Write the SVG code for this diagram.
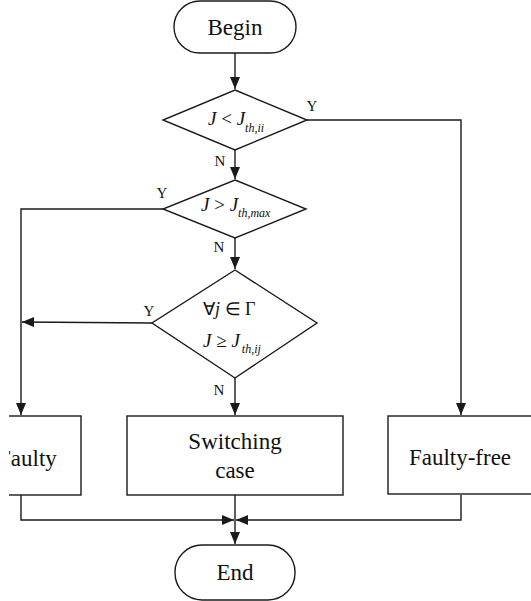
<svg xmlns="http://www.w3.org/2000/svg" width="531" height="601" viewBox="0 0 531 601">
<style>
.shape{fill:#fff;stroke:#1a1a1a;stroke-width:1.4}
.line{fill:none;stroke:#1a1a1a;stroke-width:1.4}
.t{font-family:"Liberation Serif","Times New Roman",serif;fill:#111}
.big{font-size:23px}
.lbl{font-size:15px}
.m{font-size:19px}
.it{font-style:italic}
.sub{font-size:12px;font-style:italic}
</style>
<defs>
<marker id="arr" viewBox="0 0 12 10" refX="12" refY="5" markerWidth="12" markerHeight="10" markerUnits="userSpaceOnUse" orient="auto">
<path d="M0,0 L12,5 L0,10 Z" fill="#1a1a1a"/>
</marker>
<clipPath id="clipL"><rect x="9" y="0" width="522" height="601"/></clipPath>
</defs>
<g id="connectors">
<path class="line" d="M235,53 V89" marker-end="url(#arr)"/>
<path class="line" d="M307,120 H461 V415" marker-end="url(#arr)"/>
<path class="line" d="M235,150 V179" marker-end="url(#arr)"/>
<path class="line" d="M163,209 H21 V415" marker-end="url(#arr)"/>
<path class="line" d="M235,238 V269" marker-end="url(#arr)"/>
<path class="line" d="M152,323 L22,322" marker-end="url(#arr)"/>
<path class="line" d="M235,378 V415" marker-end="url(#arr)"/>
<path class="line" d="M21,495 V520 H234" marker-end="url(#arr)"/>
<path class="line" d="M461,495 V520 H236" marker-end="url(#arr)"/>
<path class="line" d="M235,495 V544" marker-end="url(#arr)"/>
<text class="t lbl" x="312" y="111" text-anchor="middle">Y</text>
<text class="t lbl" x="220" y="166" text-anchor="middle">N</text>
<text class="t lbl" x="162" y="198" text-anchor="middle">Y</text>
<text class="t lbl" x="219" y="252" text-anchor="middle">N</text>
<text class="t lbl" x="149" y="316" text-anchor="middle">Y</text>
<text class="t lbl" x="219" y="395" text-anchor="middle">N</text>
</g>
<g id="begin">
<rect class="shape" x="174" y="1" width="122" height="52" rx="26"/>
<text class="t big" x="235" y="35" text-anchor="middle">Begin</text>
</g>
<g id="d1">
<polygon class="shape" points="235,90 307,120 235,150 163,120"/>
<text class="t m" x="208" y="125"><tspan class="it">J</tspan> &lt; <tspan class="it">J</tspan><tspan class="sub" dy="7">th,ii</tspan></text>
</g>
<g id="d2">
<polygon class="shape" points="235,180 306,209 235,238 163,209"/>
<text class="t m" x="201" y="211"><tspan class="it">J</tspan> &gt; <tspan class="it">J</tspan><tspan class="sub" dy="6">th,max</tspan></text>
</g>
<g id="d3">
<polygon class="shape" points="235,270 317,323 235,378 152,323"/>
<text class="t" font-size="18" x="203" y="315">∀<tspan class="it">j</tspan> ∈ Γ</text>
<text class="t m" x="203" y="347"><tspan class="it">J</tspan> ≥ <tspan class="it">J</tspan><tspan class="sub" dy="6" dx="2">th,ij</tspan></text>
</g>
<g id="faulty" clip-path="url(#clipL)">
<rect class="shape" x="-40" y="416" width="121" height="79"/>
<text class="t big" x="-2" y="466">Faulty</text>
</g>
<g id="switching">
<rect class="shape" x="127" y="416" width="216" height="79"/>
<text class="t big" x="235" y="449" text-anchor="middle">Switching</text>
<text class="t big" x="235" y="478" text-anchor="middle">case</text>
</g>
<g id="faultyfree">
<rect class="shape" x="388" y="416" width="160" height="78"/>
<text class="t big" x="460" y="465" text-anchor="middle">Faulty-free</text>
</g>
<g id="end">
<rect class="shape" x="175" y="545" width="120" height="55" rx="27"/>
<text class="t big" x="235" y="580" text-anchor="middle">End</text>
</g>
</svg>
